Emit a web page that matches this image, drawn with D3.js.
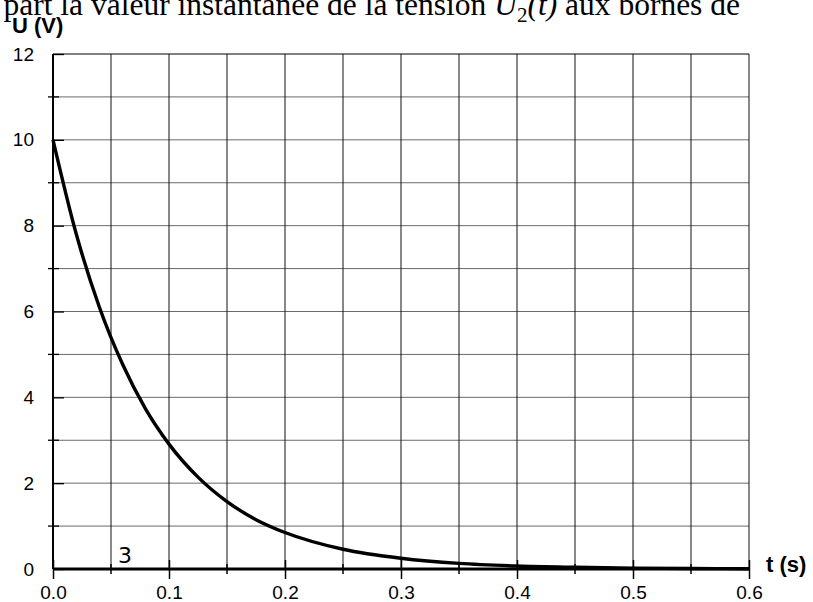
<!DOCTYPE html>
<html>
<head>
<meta charset="utf-8">
<script src="https://cdn.jsdelivr.net/npm/d3@7"></script>
<style>
  body { margin: 0; background: #fff; }
  svg { display: block; }
</style>
</head>
<body>
<svg id="chart" width="813" height="602"></svg>
<script>
// values
const times = [0, 0.02, 0.04, 0.06, 0.08, 0.1, 0.125, 0.15, 0.175, 0.2, 0.25, 0.3, 0.35, 0.4, 0.45, 0.5, 0.55, 0.6];
const volts = [10, 7.81, 6.1, 4.77, 3.72, 2.91, 2.14, 1.57, 1.15, 0.85, 0.46, 0.25, 0.13, 0.07, 0.04, 0.02, 0.01, 0.006];
const xTicks = [0, 0.1, 0.2, 0.3, 0.4, 0.5, 0.6];
const xGrid = [0.05, 0.1, 0.15, 0.2, 0.25, 0.3, 0.35, 0.4, 0.45, 0.5, 0.55, 0.6];
const yTicks = [0, 2, 4, 6, 8, 10, 12];
const yGrid = [1, 2, 3, 4, 5, 6, 7, 8, 9, 10, 11, 12];

const svg = d3.select("#chart");
const x = d3.scaleLinear().domain([0, 0.6]).range([53, 749]);
const y = d3.scaleLinear().domain([0, 12]).range([569, 54]);

// caption line cut off at the top of the page
const cap = svg.append("text")
  .attr("x", 740).attr("y", 15)
  .attr("text-anchor", "end")
  .attr("font-family", "Liberation Serif, Times New Roman, serif")
  .attr("font-size", 31.5);
cap.append("tspan").text(") part la valeur instantanée de la tension ");
cap.append("tspan").attr("font-style", "italic").text("U");
cap.append("tspan").attr("font-size", 21).attr("dy", 7).text("2");
cap.append("tspan").attr("dy", -7).attr("font-style", "italic").text("(t)");
cap.append("tspan").text(" aux bornes de");

// grid
svg.append("g")
  .selectAll("line")
  .data(yGrid)
  .join("line")
  .attr("x1", x(0)).attr("x2", x(0.6))
  .attr("y1", (d) => y(d)).attr("y2", (d) => y(d))
  .attr("stroke", (d) => (d === 12 ? "#000" : "#6a6a6a"))
  .attr("stroke-width", 1);

svg.append("g")
  .selectAll("line")
  .data(xGrid)
  .join("line")
  .attr("x1", (d) => x(d)).attr("x2", (d) => x(d))
  .attr("y1", y(0)).attr("y2", y(12))
  .attr("stroke", "#111")
  .attr("stroke-width", 1);

// y axis
const yAxis = svg.append("g").attr("transform", `translate(${x(0)},0)`);
yAxis.call(
  d3.axisLeft(y).tickValues(yTicks).tickSize(10).tickPadding(9)
    .tickFormat(d3.format("d"))
);
yAxis.select(".domain").remove();
yAxis.selectAll(".tick line").attr("x2", 11).attr("stroke-width", 1.3);
yAxis.selectAll(".tick text")
  .attr("font-family", "Liberation Sans, Arial, sans-serif")
  .attr("font-size", 19).attr("fill", "#000");
yAxis.append("g")
  .selectAll("line")
  .data([1, 3, 5, 7, 9, 11])
  .join("line")
  .attr("x1", -5).attr("x2", 6)
  .attr("y1", (d) => y(d)).attr("y2", (d) => y(d))
  .attr("stroke", "#000").attr("stroke-width", 1.3);
yAxis.append("line")
  .attr("y1", y(0)).attr("y2", y(12))
  .attr("stroke", "#000").attr("stroke-width", 2);

// x axis
const xAxis = svg.append("g").attr("transform", `translate(0,${y(0)})`);
xAxis.call(
  d3.axisBottom(x).tickValues(xTicks).tickSize(10).tickPadding(7)
    .tickFormat(d3.format(".1f"))
);
xAxis.select(".domain").remove();
xAxis.selectAll(".tick line").attr("y1", -9).attr("stroke-width", 1.5);
xAxis.selectAll(".tick text")
  .attr("font-family", "Liberation Sans, Arial, sans-serif")
  .attr("font-size", 19).attr("fill", "#000");
xAxis.append("g")
  .selectAll("line")
  .data([0.05, 0.15, 0.25, 0.35, 0.45, 0.55])
  .join("line")
  .attr("x1", (d) => x(d)).attr("x2", (d) => x(d))
  .attr("y1", -5).attr("y2", 5)
  .attr("stroke", "#000").attr("stroke-width", 1.5);
xAxis.append("line")
  .attr("x1", x(0)).attr("x2", x(0.6))
  .attr("stroke", "#000").attr("stroke-width", 3);

// axis titles
svg.append("text")
  .attr("x", 12).attr("y", 33)
  .attr("font-family", "Liberation Sans, Arial, sans-serif")
  .attr("font-weight", "bold").attr("font-size", 22)
  .text("U (V)");
svg.append("text")
  .attr("x", 766).attr("y", 572)
  .attr("font-family", "Liberation Sans, Arial, sans-serif")
  .attr("font-weight", "bold").attr("font-size", 22)
  .text("t (s)");

svg.append("text")
  .attr("x", 118).attr("y", 563)
  .attr("font-family", "DejaVu Sans, sans-serif")
  .attr("font-size", 22)
  .text("3");

// discharge curve
const points = times.map((t, i) => [t, volts[i]]);
svg.append("path")
  .datum(points)
  .attr("fill", "none")
  .attr("stroke", "#000")
  .attr("stroke-width", 3.4)
  .attr("d", d3.line().x((d) => x(d[0])).y((d) => y(d[1])).curve(d3.curveMonotoneX));
</script>
</body>
</html>
